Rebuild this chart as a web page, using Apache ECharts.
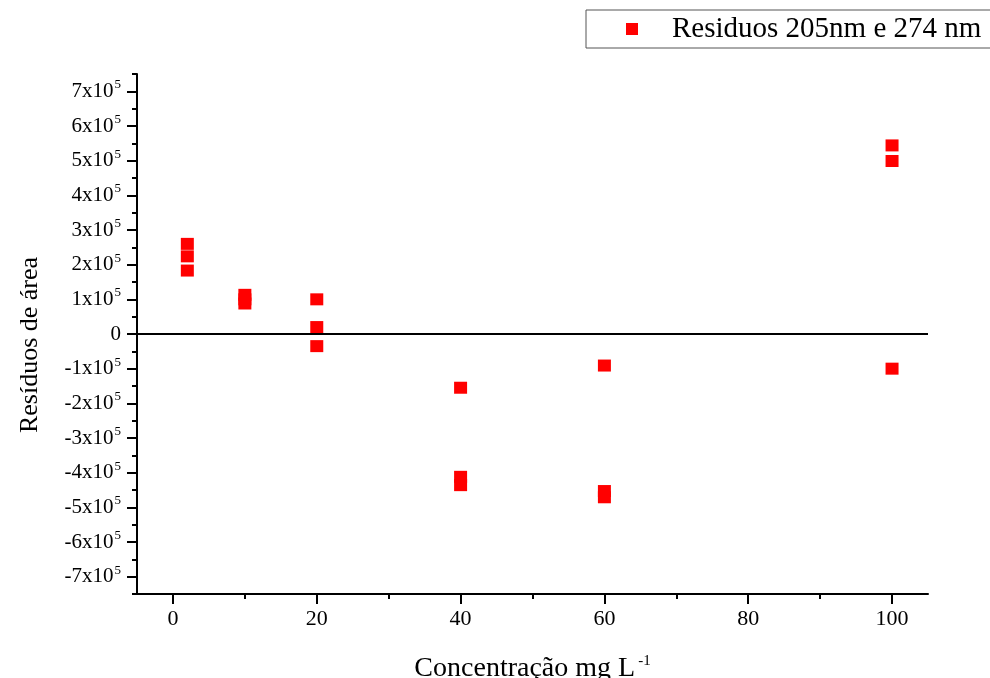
<!DOCTYPE html>
<html>
<head>
<meta charset="utf-8">
<script src="https://cdn.jsdelivr.net/npm/echarts@6/dist/echarts.min.js"></script>
<style>
  html, body { margin: 0; padding: 0; background: #fff; }
  #chart { width: 990px; height: 678px; }
</style>
</head>
<body>
<div id="chart"></div>
<script>
// Concentrations (mg L-1) and area residuals for each replicate
const concentration = [2, 2, 2, 10, 10, 10, 20, 20, 20, 40, 40, 40, 60, 60, 60, 100, 100, 100];
const residual = [
  2.60e5, 2.24e5, 1.83e5,
  1.13e5, 1.00e5, 0.88e5,
  1.00e5, 0.20e5, -0.35e5,
  -1.55e5, -4.12e5, -4.36e5,
  -0.91e5, -4.53e5, -4.71e5,
  5.44e5, 4.99e5, -1.00e5
];
const seriesName = 'Residuos 205nm e 274 nm';
const xMajorTicks = [0, 20, 40, 60, 80, 100];
const xMinorTicks = [10, 30, 50, 70, 90];
const yMajorTicks = [-7e5, -6e5, -5e5, -4e5, -3e5, -2e5, -1e5, 0, 1e5, 2e5, 3e5, 4e5, 5e5, 6e5, 7e5];
const yMinorTicks = [-7.5e5, -6.5e5, -5.5e5, -4.5e5, -3.5e5, -2.5e5, -1.5e5, -0.5e5, 0.5e5, 1.5e5, 2.5e5, 3.5e5, 4.5e5, 5.5e5, 6.5e5, 7.5e5];

const points = concentration.map((c, i) => [c, residual[i]]);
const serif = '"Liberation Serif", "DejaVu Serif", serif';

// "n x 10^5" labels with a raised exponent
function powerLabel(v) {
  if (v === 0) return '0';
  const m = Math.round(v / 1e5);
  return '{b|' + m + 'x10}{s|5}';
}

const chart = echarts.init(document.getElementById('chart'), null, { renderer: 'canvas' });
chart.setOption({
  animation: false,
  backgroundColor: '#fff',
  textStyle: { fontFamily: serif, color: '#000' },
  grid: { left: 137, right: 62, top: 74, bottom: 84, containLabel: false, outerBoundsMode: 'none' },
  legend: {
    left: 586, top: 10,
    padding: [4, 60, 4, 40],
    borderColor: '#555', borderWidth: 1,
    itemWidth: 12, itemHeight: 12,
    icon: 'rect',
    itemStyle: { opacity: 1 },
    textStyle: { fontFamily: serif, fontSize: 29, lineHeight: 30, color: '#000', padding: [0, 0, 0, 29] },
    data: [seriesName]
  },
  xAxis: [{
    type: 'value', min: -5, max: 105,
    name: 'Concentração mg L{s|-1}',
    nameLocation: 'middle', nameGap: 60,
    nameTextStyle: {
      fontFamily: serif, fontSize: 28, color: '#000',
      rich: { s: { fontFamily: serif, fontSize: 15, color: '#000', verticalAlign: 'top', padding: [0, 0, 14, 3] } }
    },
    axisLine: { onZero: false, lineStyle: { color: '#000', width: 2 } },
    axisTick: { customValues: xMajorTicks, length: 10, lineStyle: { color: '#000', width: 2 } },
    axisLabel: { customValues: xMajorTicks, fontFamily: serif, fontSize: 22, color: '#000', margin: 14 },
    splitLine: { show: false }
  }, {
    type: 'value', min: -5, max: 105, position: 'bottom',
    axisLine: { show: false, onZero: false },
    axisTick: { customValues: xMinorTicks, length: 5, lineStyle: { color: '#000', width: 2 } },
    axisLabel: { show: false },
    splitLine: { show: false }
  }],
  yAxis: [{
    type: 'value', min: -7.5e5, max: 7.5e5,
    name: 'Resíduos de área',
    nameLocation: 'middle', nameGap: 94,
    nameTextStyle: { fontFamily: serif, fontSize: 26, color: '#000', padding: [0, 22, 0, 0] },
    axisLine: { onZero: false, lineStyle: { color: '#000', width: 2 } },
    axisTick: { customValues: yMajorTicks, length: 10, lineStyle: { color: '#000', width: 2 } },
    axisLabel: {
      customValues: yMajorTicks, margin: 16,
      formatter: powerLabel,
      fontFamily: serif, fontSize: 21, color: '#000',
      rich: {
        b: { fontFamily: serif, fontSize: 21, color: '#000' },
        s: { fontFamily: serif, fontSize: 13, color: '#000', verticalAlign: 'top', padding: [0, 0, 13, 1] }
      }
    },
    splitLine: { show: false }
  }, {
    type: 'value', min: -7.5e5, max: 7.5e5, position: 'left',
    axisLine: { show: false, onZero: false },
    axisTick: { customValues: yMinorTicks, length: 5, lineStyle: { color: '#000', width: 2 } },
    axisLabel: { show: false },
    splitLine: { show: false }
  }],
  series: [{
    name: seriesName,
    type: 'scatter',
    symbol: 'rect',
    symbolSize: [13, 12],
    itemStyle: { color: '#ff0000', opacity: 1 },
    data: points,
    markLine: {
      silent: true,
      symbol: ['none', 'none'],
      label: { show: false },
      lineStyle: { color: '#000', width: 2, type: 'solid' },
      data: [{ yAxis: 0 }]
    }
  }]
});
</script>
</body>
</html>
